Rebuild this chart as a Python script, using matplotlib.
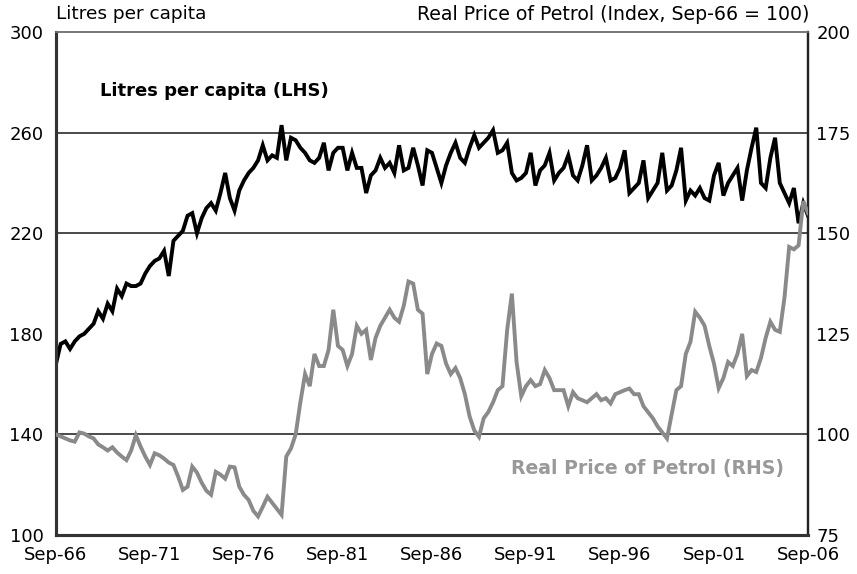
import numpy as np
import matplotlib
matplotlib.use("Agg")
import matplotlib.pyplot as plt

plt.rcParams['font.family'] = ['DejaVu Sans']

# quarterly, Sep-66 .. Sep-06
litres = [
    168, 176, 177, 174, 177, 179, 180, 182, 184, 189,
    186, 192, 189, 198, 195, 200, 199, 199, 200, 204,
    207, 209, 210, 213, 203, 217, 219, 221, 227, 228,
    220, 226, 230, 232, 229, 236, 244, 234, 229, 237,
    241, 244, 246, 249, 255, 249, 251, 250, 263, 249,
    258, 257, 254, 252, 249, 248, 250, 256, 245, 252,
    254, 254, 245, 252, 246, 246, 236, 243, 245, 250,
    246, 248, 244, 255, 245, 246, 254, 247, 239, 253,
    252, 246, 240, 247, 252, 256, 250, 248, 254, 259,
    254, 256, 258, 261, 252, 253, 256, 244, 241, 242,
    244, 252, 239, 245, 247, 252, 241, 244, 246, 251,
    243, 241, 247, 255, 241, 243, 246, 250, 241, 242,
    246, 253, 236, 238, 240, 249, 234, 237, 240, 252,
    237, 239, 245, 254, 233, 237, 235, 238, 234, 233,
    243, 248, 235, 240, 243, 246, 233, 245, 254, 262,
    240, 238, 250, 258, 240, 236, 232, 238, 224, 232, 227,
]

petrol = [
    100, 99.5, 99, 98.5, 98.2, 100.5, 100.2, 99.5, 99, 97.5,
    96.8, 96, 96.8, 95.5, 94.5, 93.6, 96, 99.8, 97, 94.5,
    92.4, 95.3, 94.8, 94, 93, 92.4, 89.5, 86.2, 87, 92,
    90.5, 88, 86, 85, 90.7, 90, 89, 92, 91.8, 87,
    85, 83.7, 81, 79.6, 82, 84.5, 83, 81.5, 80, 94.5,
    96.5, 100, 108, 115, 112, 120, 117, 117, 121, 131,
    122, 121, 117, 120, 127, 125, 126, 118.5, 124, 127,
    129, 131, 129, 128, 132, 138, 137.5, 131, 130, 115,
    120, 122.6, 122, 117.6, 115, 116.5, 114, 110, 104.5, 101,
    99.4, 104, 105.6, 108, 111, 112, 126, 135, 118, 109.5,
    112, 113.5, 112, 112.5, 116, 114, 111, 111, 111, 107,
    110.5, 109, 108.5, 108, 109, 110, 108.5, 109, 107.7, 110,
    110.5, 111, 111.4, 110, 110, 107, 105.5, 104, 102, 100.5,
    99, 105, 111, 112, 120, 123, 130.5, 129, 127, 122,
    117.6, 111.5, 114, 118, 117, 120, 125, 114.5, 116, 115.5,
    119, 124, 128, 126, 125.5, 134, 146.6, 146, 147, 158, 155,
]

tick_labels = ['Sep-66', 'Sep-71', 'Sep-76', 'Sep-81', 'Sep-86',
               'Sep-91', 'Sep-96', 'Sep-01', 'Sep-06']
left_ticks = [100, 140, 180, 220, 260, 300]
right_ticks = [75, 100, 125, 150, 175, 200]
grid_levels = [140, 220, 260]

x = np.arange(len(litres))

fig = plt.figure(figsize=(8.57, 5.74), dpi=100)
ax = fig.add_axes([0.0653, 0.068, 0.8775, 0.876])
ax2 = ax.twinx()

for g in grid_levels:
    ax.axhline(g, color='#4a4a4a', lw=1.4, zorder=1)

ax.plot(x, litres, color='black', lw=2.8, zorder=3, solid_joinstyle='miter')
ax2.plot(x, petrol, color='#8a8a8a', lw=2.8, zorder=3, solid_joinstyle='miter')

ax.set_xlim(0, 160)
ax.set_ylim(100, 300)
ax2.set_ylim(75, 200)

ax.set_xticks(np.arange(0, 161, 20))
ax.set_xticklabels(tick_labels)
ax.set_yticks(left_ticks)
ax2.set_yticks(right_ticks)

ax.tick_params(axis='both', length=0, labelsize=13, pad=8)
ax.tick_params(axis='y', pad=9)
ax2.tick_params(axis='y', length=0, labelsize=13, pad=6)

for a in (ax, ax2):
    a.spines['left'].set_linewidth(2.2)
    a.spines['bottom'].set_linewidth(2.2)
    a.spines['right'].set_linewidth(1.6)
    a.spines['top'].set_linewidth(1.2)
    a.spines['left'].set_color('#333333')
    a.spines['bottom'].set_color('#333333')
    a.spines['right'].set_color('#222222')
    a.spines['top'].set_color('#777777')

fig.text(0.065, 0.975, 'Litres per capita', fontsize=13.3, ha='left', va='center')
fig.text(0.944, 0.975, 'Real Price of Petrol (Index, Sep-66 = 100)', fontsize=13.6,
         ha='right', va='center')

ax.text(0.058, 0.883, 'Litres per capita (LHS)', transform=ax.transAxes,
        fontsize=13, fontweight='bold', ha='left', va='center')
ax.text(0.605, 0.133, 'Real Price of Petrol (RHS)', transform=ax.transAxes,
        fontsize=13.6, fontweight='bold', color='#999999', ha='left', va='center')

fig.savefig('out.png', dpi=100)
